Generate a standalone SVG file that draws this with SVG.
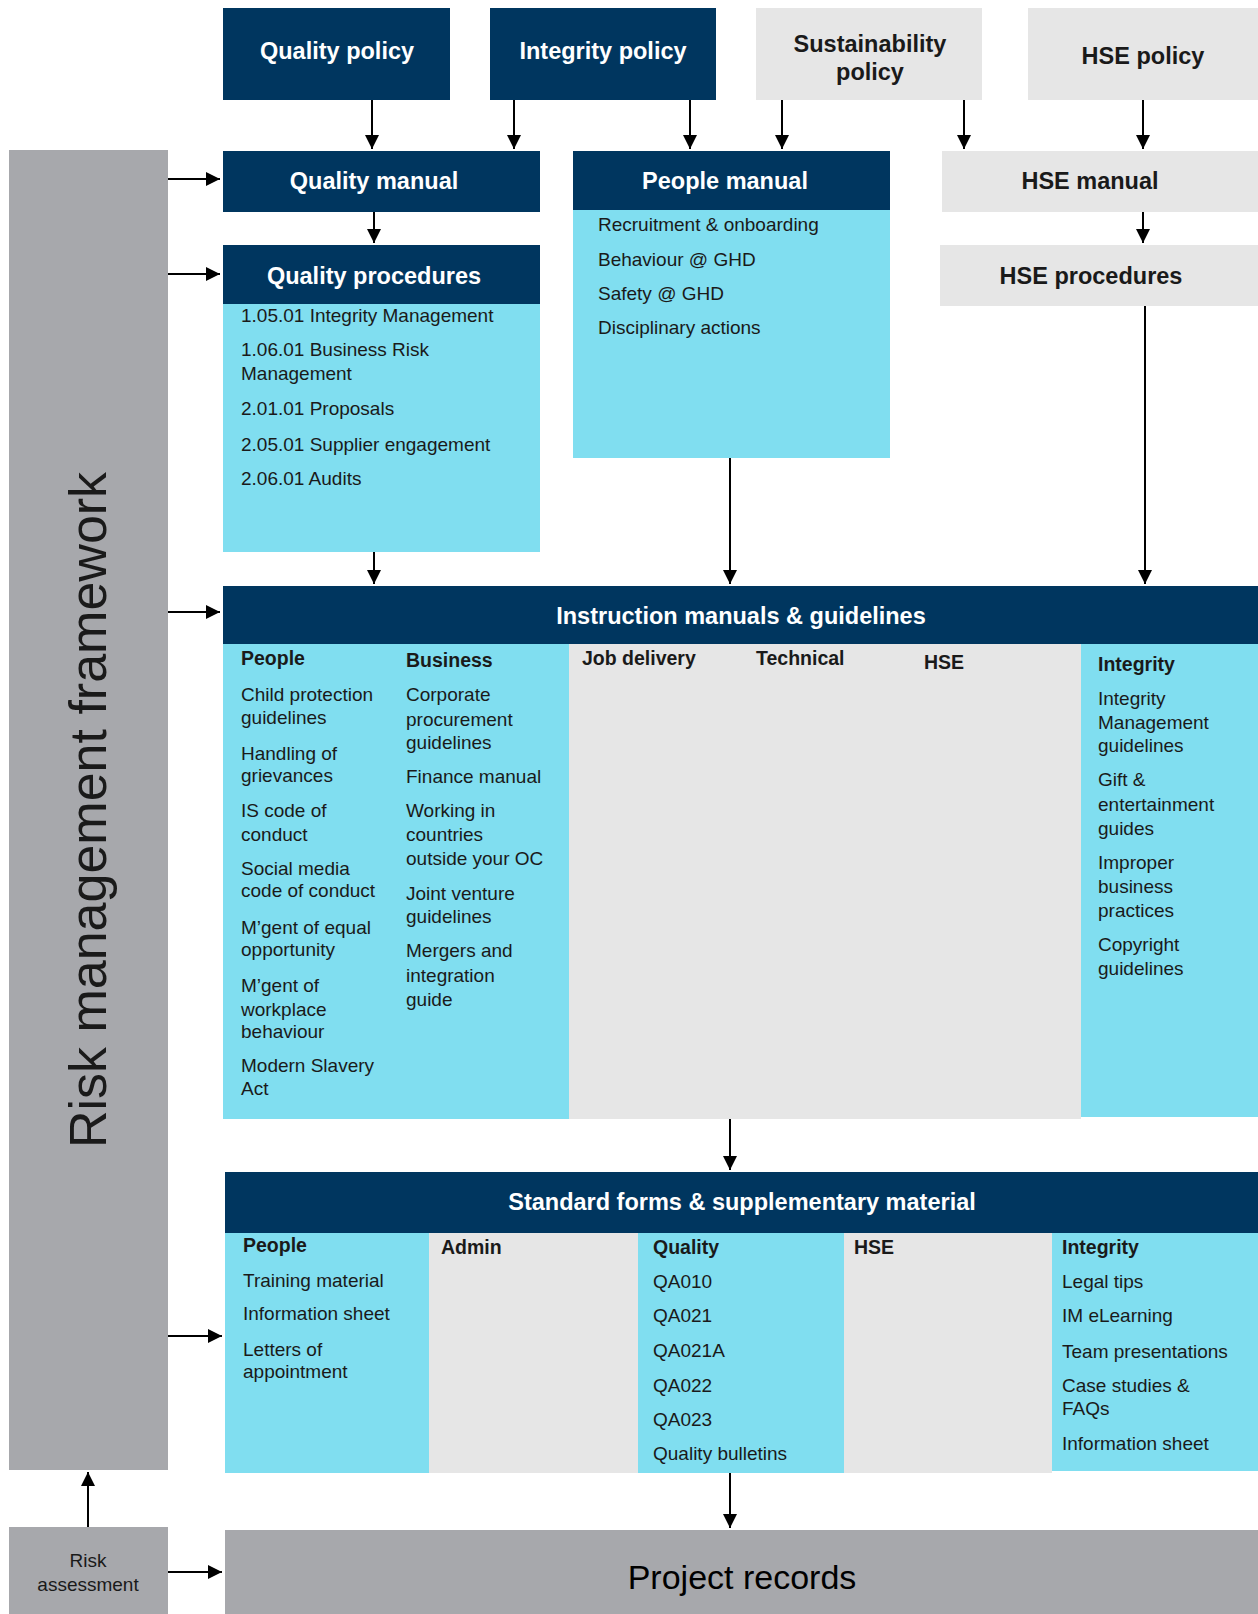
<svg xmlns="http://www.w3.org/2000/svg" width="1258" height="1614" viewBox="0 0 1258 1614">
<defs>
<style>
.navy{fill:#00365f}
.cyan{fill:#80def0}
.lg{fill:#e6e6e6}
.dg{fill:#a7a8ac}
text{font-family:"Liberation Sans",Arial,sans-serif}
.h{font-size:23.5px;font-weight:bold;text-anchor:middle}
.hw{fill:#ffffff}
.hd{fill:#1a1a1a}
.b{font-size:19px;fill:#1a1a1a}
.cb{font-size:19.5px;font-weight:bold;fill:#1a1a1a}
.conn line{stroke:#000;stroke-width:2;marker-end:url(#ah)}
</style>
<marker id="ah" viewBox="0 0 10 10" refX="10" refY="5" markerWidth="14" markerHeight="14" markerUnits="userSpaceOnUse" orient="auto">
<path d="M0,0 L10,5 L0,10 z" fill="#000"/>
</marker>
</defs>
<rect width="1258" height="1614" fill="#ffffff"/>

<g id="risk-framework">
<rect class="dg" x="9" y="150" width="159" height="1320"/>
<text transform="translate(106,810) rotate(-90)" font-size="52" text-anchor="middle" fill="#1a1a1a">Risk management framework</text>
</g>

<g id="risk-assessment">
<rect class="dg" x="9" y="1527" width="159" height="87"/>
<text x="88" y="1567" font-size="19" text-anchor="middle" fill="#1a1a1a">Risk</text>
<text x="88" y="1591" font-size="19" text-anchor="middle" fill="#1a1a1a">assessment</text>
</g>

<g id="quality-policy">
<rect class="navy" x="223" y="8" width="227" height="92"/>
<text class="h hw" x="337" y="59">Quality policy</text>
</g>
<g id="integrity-policy">
<rect class="navy" x="490" y="8" width="226" height="92"/>
<text class="h hw" x="603" y="59">Integrity policy</text>
</g>
<g id="sustainability-policy">
<rect class="lg" x="756" y="8" width="226" height="92"/>
<text class="h hd" x="870" y="52">Sustainability</text>
<text class="h hd" x="870" y="80">policy</text>
</g>
<g id="hse-policy">
<rect class="lg" x="1028" y="8" width="230" height="92"/>
<text class="h hd" x="1143" y="64">HSE policy</text>
</g>

<g id="quality-manual">
<rect class="navy" x="223" y="151" width="317" height="61"/>
<text class="h hw" x="374" y="189">Quality manual</text>
</g>
<g id="people-manual">
<rect class="cyan" x="573" y="151" width="317" height="307"/>
<rect class="navy" x="573" y="151" width="317" height="59"/>
<text class="h hw" x="725" y="189">People manual</text>
<text class="b" x="598" y="231">Recruitment &amp; onboarding</text>
<text class="b" x="598" y="266">Behaviour @ GHD</text>
<text class="b" x="598" y="300">Safety @ GHD</text>
<text class="b" x="598" y="334">Disciplinary actions</text>
</g>
<g id="hse-manual">
<rect class="lg" x="942" y="151" width="316" height="61"/>
<text class="h hd" x="1090" y="189">HSE manual</text>
</g>

<g id="quality-procedures">
<rect class="cyan" x="223" y="245" width="317" height="307"/>
<rect class="navy" x="223" y="245" width="317" height="59"/>
<text class="h hw" x="374" y="284">Quality procedures</text>
<text class="b" x="241" y="322">1.05.01 Integrity Management</text>
<text class="b" x="241" y="356">1.06.01 Business Risk</text>
<text class="b" x="241" y="380">Management</text>
<text class="b" x="241" y="415">2.01.01 Proposals</text>
<text class="b" x="241" y="451">2.05.01 Supplier engagement</text>
<text class="b" x="241" y="485">2.06.01 Audits</text>
</g>
<g id="hse-procedures">
<rect class="lg" x="940" y="245" width="318" height="61"/>
<text class="h hd" x="1091" y="284">HSE procedures</text>
</g>

<g id="instruction-manuals">
<rect class="cyan" x="223" y="644" width="346" height="475"/>
<rect class="lg" x="569" y="644" width="512" height="475"/>
<rect class="cyan" x="1081" y="644" width="177" height="473"/>
<rect class="navy" x="223" y="586" width="1035" height="58"/>
<text class="h hw" x="741" y="624">Instruction manuals &amp; guidelines</text>
<text class="cb" x="241" y="665">People</text>
<text class="b" x="241" y="701">Child protection</text>
<text class="b" x="241" y="724">guidelines</text>
<text class="b" x="241" y="760">Handling of</text>
<text class="b" x="241" y="782">grievances</text>
<text class="b" x="241" y="817">IS code of</text>
<text class="b" x="241" y="841">conduct</text>
<text class="b" x="241" y="875">Social media</text>
<text class="b" x="241" y="897">code of conduct</text>
<text class="b" x="241" y="934">M’gent of equal</text>
<text class="b" x="241" y="956">opportunity</text>
<text class="b" x="241" y="992">M’gent of</text>
<text class="b" x="241" y="1016">workplace</text>
<text class="b" x="241" y="1038">behaviour</text>
<text class="b" x="241" y="1072">Modern Slavery</text>
<text class="b" x="241" y="1095">Act</text>
<text class="cb" x="406" y="667">Business</text>
<text class="b" x="406" y="701">Corporate</text>
<text class="b" x="406" y="726">procurement</text>
<text class="b" x="406" y="749">guidelines</text>
<text class="b" x="406" y="783">Finance manual</text>
<text class="b" x="406" y="817">Working in</text>
<text class="b" x="406" y="841">countries</text>
<text class="b" x="406" y="865">outside your OC</text>
<text class="b" x="406" y="900">Joint venture</text>
<text class="b" x="406" y="923">guidelines</text>
<text class="b" x="406" y="957">Mergers and</text>
<text class="b" x="406" y="982">integration</text>
<text class="b" x="406" y="1006">guide</text>
<text class="cb" x="582" y="665">Job delivery</text>
<text class="cb" x="756" y="665">Technical</text>
<text class="cb" x="924" y="669">HSE</text>
<text class="cb" x="1098" y="671">Integrity</text>
<text class="b" x="1098" y="705">Integrity</text>
<text class="b" x="1098" y="729">Management</text>
<text class="b" x="1098" y="752">guidelines</text>
<text class="b" x="1098" y="786">Gift &amp;</text>
<text class="b" x="1098" y="811">entertainment</text>
<text class="b" x="1098" y="835">guides</text>
<text class="b" x="1098" y="869">Improper</text>
<text class="b" x="1098" y="893">business</text>
<text class="b" x="1098" y="917">practices</text>
<text class="b" x="1098" y="951">Copyright</text>
<text class="b" x="1098" y="975">guidelines</text>
</g>

<g id="standard-forms">
<rect class="cyan" x="225" y="1233" width="204" height="240"/>
<rect class="lg" x="429" y="1233" width="209" height="240"/>
<rect class="cyan" x="638" y="1233" width="206" height="240"/>
<rect class="lg" x="844" y="1233" width="208" height="240"/>
<rect class="cyan" x="1052" y="1233" width="206" height="238"/>
<rect class="navy" x="225" y="1172" width="1033" height="61"/>
<text class="h hw" x="742" y="1210">Standard forms &amp; supplementary material</text>
<text class="cb" x="243" y="1252">People</text>
<text class="b" x="243" y="1287">Training material</text>
<text class="b" x="243" y="1320">Information sheet</text>
<text class="b" x="243" y="1356">Letters of</text>
<text class="b" x="243" y="1378">appointment</text>
<text class="cb" x="441" y="1254">Admin</text>
<text class="cb" x="653" y="1254">Quality</text>
<text class="b" x="653" y="1288">QA010</text>
<text class="b" x="653" y="1322">QA021</text>
<text class="b" x="653" y="1357">QA021A</text>
<text class="b" x="653" y="1392">QA022</text>
<text class="b" x="653" y="1426">QA023</text>
<text class="b" x="653" y="1460">Quality bulletins</text>
<text class="cb" x="854" y="1254">HSE</text>
<text class="cb" x="1062" y="1254">Integrity</text>
<text class="b" x="1062" y="1288">Legal tips</text>
<text class="b" x="1062" y="1322">IM eLearning</text>
<text class="b" x="1062" y="1358">Team presentations</text>
<text class="b" x="1062" y="1392">Case studies &amp;</text>
<text class="b" x="1062" y="1415">FAQs</text>
<text class="b" x="1062" y="1450">Information sheet</text>
</g>

<g id="project-records">
<rect class="dg" x="225" y="1530" width="1033" height="84"/>
<text x="742" y="1589" font-size="34" text-anchor="middle" fill="#000">Project records</text>
</g>

<g class="conn" id="connectors">
<line x1="372" y1="100" x2="372" y2="149"/>
<line x1="514" y1="100" x2="514" y2="149"/>
<line x1="690" y1="100" x2="690" y2="149"/>
<line x1="782" y1="100" x2="782" y2="149"/>
<line x1="964" y1="100" x2="964" y2="149"/>
<line x1="1143" y1="100" x2="1143" y2="149"/>
<line x1="374" y1="212" x2="374" y2="243"/>
<line x1="1143" y1="212" x2="1143" y2="243"/>
<line x1="168" y1="179" x2="220" y2="179"/>
<line x1="168" y1="274" x2="220" y2="274"/>
<line x1="168" y1="612" x2="220" y2="612"/>
<line x1="168" y1="1336" x2="222" y2="1336"/>
<line x1="374" y1="552" x2="374" y2="584"/>
<line x1="730" y1="458" x2="730" y2="584"/>
<line x1="1145" y1="306" x2="1145" y2="584"/>
<line x1="730" y1="1119" x2="730" y2="1170"/>
<line x1="730" y1="1473" x2="730" y2="1528"/>
<line x1="88" y1="1527" x2="88" y2="1472"/>
<line x1="168" y1="1572" x2="222" y2="1572"/>
</g>
</svg>
